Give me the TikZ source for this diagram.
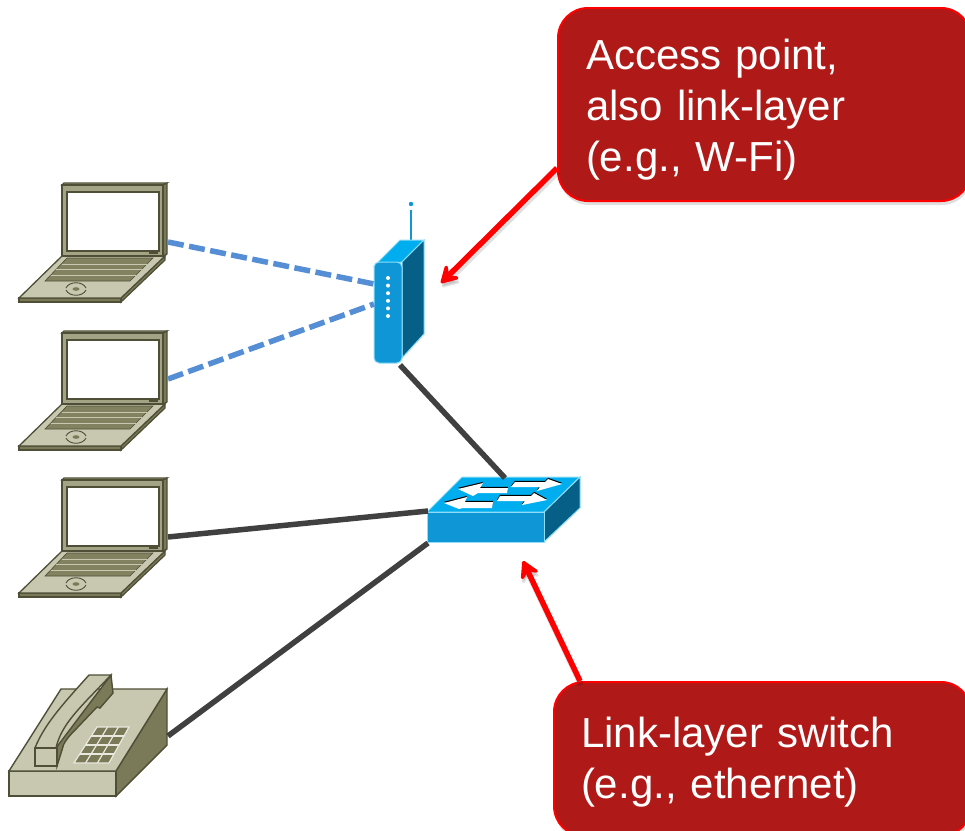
\documentclass[tikz,border=0pt]{standalone}
\usepackage{fontspec}
\setmainfont{Liberation Sans}
\usepackage{xcolor}
\usepackage{tikz}
\usetikzlibrary{arrows.meta, positioning, calc, shadows}
\definecolor{calloutred}{HTML}{AF1917}
\definecolor{wifiblue}{HTML}{558ED5}
\definecolor{wirecolor}{HTML}{404040}
\definecolor{khakilight}{HTML}{C8C8B0}
\definecolor{khakimid}{HTML}{A3A385}
\definecolor{khakidark}{HTML}{7A7A58}
\definecolor{khakiline}{HTML}{4F4F38}
\definecolor{devicelight}{HTML}{00AEEF}
\definecolor{devicemid}{HTML}{0E96D6}
\definecolor{devicedark}{HTML}{055F86}
\definecolor{deviceline}{HTML}{8FDDF7}

\tikzset{
    laptop/.pic={
        % --- base, lid, screen ---
        \draw[khakiline, fill=khakidark, line width=1.3pt] (121,298) -- (165,256) -- (165,260) -- (121,302) -- cycle;
        \draw[khakiline, fill=khakidark, line width=1.3pt] (19,298) -- (121,298) -- (121,302) -- (19,302) -- cycle;
        \draw[khakiline, fill=khakilight, line width=1.3pt] (62,256) -- (165,256) -- (121,298) -- (19,298) -- cycle;
        \draw[khakiline, fill=khakidark, line width=1.3pt] (163,185) -- (167,183) -- (167,254) -- (163,256) -- cycle;
        \draw[khakiline, fill=khakimid, line width=1.3pt] (62,185) -- (64,183) -- (167,183) -- (163,185) -- cycle;
        \draw[khakiline, fill=khakimid, line width=1.3pt] (62,185) rectangle (163,256);
        \draw[khakiline, fill=white, line width=1.3pt] (67,192) rectangle (159,251);
        \fill[khakiline] (149,251) rectangle (158,253.5);
        % --- keyboard and pad ---
        \draw[khakiline, fill=khakidark!90!khakilight, line width=0.6pt] (67,258) -- (153,258) -- (130,281) -- (45,281) -- cycle;
        \foreach \keyrow in {0.25,0.5,0.75}
            \draw[khakilight, line width=0.5pt] ($(67,258)!\keyrow!(45,281)$) -- ($(153,258)!\keyrow!(130,281)$);
        \draw[khakiline, line width=0.9pt] (66,288) .. controls (69,281) and (83,281) .. (86,288);
        \draw[khakiline, line width=0.9pt] (66,290) .. controls (69,297) and (83,297) .. (86,290);
        \fill[khakidark] (76,289) ellipse [x radius=3.5, y radius=1.8];
        \coordinate (-porta) at (168,242);
        \coordinate (-portb) at (168,231);
    },
    switcharrow/.style={fill=white, line join=round, preaction={fill=black, transform canvas={yshift=1.2pt}}},
    callout/.style={rectangle, draw=red, fill=calloutred, line width=2pt, rounded corners=30pt,
        text=white, font=\fontsize{42}{51}\selectfont, align=left, anchor=north west,
        drop shadow={shadow xshift=1pt, shadow yshift=-4pt, opacity=0.25}},
    wifilink/.style={wifiblue, line width=5.5pt, dash pattern=on 16pt off 5.5pt},
    wirelink/.style={wirecolor, line width=5.5pt},
    pointer/.style={red, line width=5.5pt, -{Stealth[length=22pt, width=25pt, inset=9pt, round]}},
    pointershade/.style={pointer, black, opacity=0.12, transform canvas={xshift=1pt, yshift=-4pt}}
}

\begin{document}
\begin{tikzpicture}[x=1pt, y=-1pt]
    \useasboundingbox (0,0) rectangle (965,830);

    % --- Laptops ---
    \pic (lapa) at (0,0) {laptop};
    \pic (lapb) at (0,148) {laptop};
    \pic (lapc) at (0,295) {laptop};

    % --- Telephone ---
    \draw[khakiline, fill=khakidark, line width=1.4pt] (116,771) -- (167,689) -- (167,745) -- (116,796) -- cycle;
    \draw[khakiline, fill=khakilight, line width=1.4pt] (9,771) rectangle (116,796);
    \draw[khakiline, fill=khakilight, line width=1.4pt] (9,771) -- (61,689) -- (167,689) -- (116,771) -- cycle;
    \draw[khakilight!40!white, fill=khakidark, line width=1.2pt] (97,727) -- (129,727) -- (109,763) -- (74,763) -- cycle;
    \foreach \keyrow in {0.25,0.5,0.75}
        \draw[khakilight!40!white, line width=1.2pt] ($(97,727)!\keyrow!(74,763)$) -- ($(129,727)!\keyrow!(109,763)$);
    \foreach \keycol in {0.33,0.67}
        \draw[khakilight!40!white, line width=1.2pt] ($(97,727)!\keycol!(129,727)$) -- ($(74,763)!\keycol!(109,763)$);
    \draw[khakiline, fill=khakidark, line width=1.4pt] (111,675) -- (113,693) -- (100,708) -- (97,707) -- (77,728) .. controls (68,737) and (63,743) .. (62,750) -- (57,766) -- (56,748) -- cycle;
    \draw[khakiline, fill=khakilight, line width=1.4pt] (35,748) .. controls (44,725) and (62,705) .. (89,675) -- (111,675) -- (87,700) .. controls (72,716) and (60,730) .. (56,748) -- cycle;
    \draw[khakiline, fill=khakilight, line width=1.4pt] (35,748) rectangle (57,766);
    \coordinate (phoneport) at (168,736);

    % --- Access point ---
    \draw[devicemid, line width=2.5pt] (411,240) -- (411,214);
    \draw[devicemid, line width=1.5pt] (411,214) -- (411,210);
    \fill[devicemid] (411,204) circle (2.2);
    \draw[deviceline, fill=devicelight, line width=1pt] (374,266) -- (400,240) -- (424,240) -- (402,262) -- cycle;
    \draw[deviceline, fill=devicedark, line width=1pt] (402,262) -- (424,240) -- (424,334) -- (402,358) -- cycle;
    \node (apfront) [draw=deviceline, fill=devicemid, line width=1pt, rounded corners=5pt, minimum width=28pt, minimum height=101pt, inner sep=0pt] at (388,312.5) {};
    \foreach \apled in {0,...,5}
        \fill[white] (388,278+7.6*\apled) circle (2);
    \coordinate (apporta) at (374,284);
    \coordinate (apportb) at (374,304);
    \coordinate (apbottom) at (400,365);

    % --- Switch ---
    \draw[deviceline, fill=devicelight, line width=1pt] (427,512) -- (462,477) -- (580,477) -- (544,512) -- cycle;
    \draw[deviceline, fill=devicedark, line width=1pt] (544,512) -- (580,477) -- (580,508) -- (544,542) -- cycle;
    \node (swfront) [draw=deviceline, fill=devicemid, line width=1pt, minimum width=117pt, minimum height=30pt, inner sep=0pt] at (485.5,527) {};
    \path[switcharrow] (458,489) -- (483,483) -- (480,488) -- (508,488) -- (507,493) -- (478,493) -- (473,496) -- cycle;
    \path[switcharrow] (562,484) -- (548,479) -- (545,482) -- (515,482) -- (511,487) -- (540,487) -- (537,491) -- cycle;
    \path[switcharrow] (444,503) -- (467,497) -- (465,502) -- (493,502) -- (492,508) -- (463,508) -- (459,509) -- cycle;
    \path[switcharrow] (547,500) -- (534,493) -- (531,496) -- (500,496) -- (497,501) -- (525,501) -- (522,505) -- cycle;
    \coordinate (swtop) at (505,478);
    \coordinate (swporta) at (428,511);
    \coordinate (swportb) at (428,543);

    % --- Links ---
    \draw[wifilink] (lapa-porta) -- (apporta);
    \draw[wifilink] (lapb-portb) -- (apportb);
    \draw[wirelink] (apbottom) -- (swtop);
    \draw[wirelink] (lapc-porta) -- (swporta);
    \draw[wirelink] (phoneport) -- (swportb);

    % --- Callouts ---
    \node (noteap) [callout, minimum width=413pt, minimum height=193pt, text width=357pt, inner xsep=28pt, execute at begin node={\rule{0pt}{40pt}}] at (557,7) {Access point,\\also link-layer\\(e.g., W-Fi)};
    \node (noteswitch) [callout, minimum width=417pt, minimum height=154pt, text width=363pt, inner xsep=27pt, execute at begin node={\rule{0pt}{36pt}}] at (553,681) {Link-layer switch\\(e.g., ethernet)};

    % --- Pointers ---
    \coordinate (appoint) at (441,283);
    \coordinate (swpoint) at (523,561);
    \draw[pointershade] ($(noteap.south west)!0.174!(noteap.north west)$) -- (appoint);
    \draw[pointershade] ($(noteswitch.north west)+(27,0)$) -- (swpoint);
    \draw[pointer] ($(noteap.south west)!0.174!(noteap.north west)$) -- (appoint);
    \draw[pointer] ($(noteswitch.north west)+(27,0)$) -- (swpoint);
\end{tikzpicture}
\end{document}
